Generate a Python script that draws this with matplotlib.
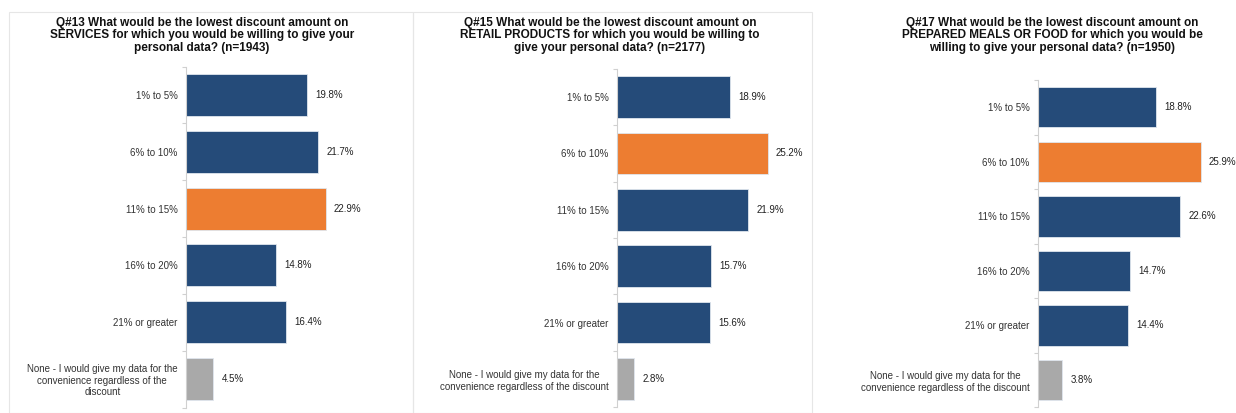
import numpy as np
import matplotlib.pyplot as plt
from matplotlib.patches import Rectangle

plt.rcParams['font.family'] = ['Liberation Sans', 'DejaVu Sans']

# Daten
kategorien = ["1% to 5%", "6% to 10%", "11% to 15%", "16% to 20%", "21% or greater", "None"]
none_label_1 = "None - I would give my data for the\nconvenience regardless of the\ndiscount"
none_label_2 = "None - I would give my data for the\nconvenience regardless of the discount"

titel = [
    "Q#13 What would be the lowest discount amount on\nSERVICES for which you would be willing to give your\npersonal data? (n=1943)",
    "Q#15 What would be the lowest discount amount on\nRETAIL PRODUCTS for which you would be willing to\ngive your personal data? (n=2177)",
    "Q#17 What would be the lowest discount amount on\nPREPARED MEALS OR FOOD for which you would be\nwilling to give your personal data? (n=1950)",
]
services = [19.8, 21.7, 22.9, 14.8, 16.4, 4.5]
retail = [18.9, 25.2, 21.9, 15.7, 15.6, 2.8]
food = [18.8, 25.9, 22.6, 14.7, 14.4, 3.8]
highlight = [2, 1, 1]   # Index des orangen Balkens

blau = "#254B79"
orange = "#ED7D31"
grau = "#A9A9A9"

W, H = 1236, 413
fig = plt.figure(figsize=(W/100, H/100), dpi=100)

# Panel-Layout in Pixeln: links, oben, unten, px pro %, Breite, Titelmitte
layout = [
    (186, 66.5, 407.5, 6.1, 215, 202),
    (617, 68.8, 407.2, 5.98, 190, 610),
    (1038, 80.0, 407.3, 6.28, 190, 1052),
]
werte = [services, retail, food]
none_labels = [none_label_1, none_label_2, none_label_2]

# dezente Rahmen um Panel 1 und 2
for x0, x1 in [(9, 413), (413, 812)]:
    fig.patches.append(Rectangle((x0/W, 0), (x1-x0)/W, (H-12)/H, transform=fig.transFigure,
                                 fill=False, edgecolor="#e6e6e6", linewidth=0.8))

for k in range(3):
    left, top, bottom, ppp, width, tx = layout[k]
    ax = fig.add_axes([left/W, (H-bottom)/H, width/W, (bottom-top)/H])
    vals = werte[k]
    farben = [grau if i == 5 else (orange if i == highlight[k] else blau) for i in range(6)]
    y = np.arange(6)
    ax.barh(y, vals, height=0.74, color=farben, edgecolor="#dfe6ee", linewidth=0.6)
    ax.set_ylim(5.5, -0.5)
    ax.set_xlim(0, width/ppp)
    for i, v in enumerate(vals):
        ax.annotate(f"{v:.1f}%", (v, i), xytext=(6, 0), textcoords="offset points",
                    va="center", ha="left", fontsize=7, color="#222222")
    labels = kategorien[:5] + [none_labels[k]]
    ax.set_yticks(y)
    ax.set_yticklabels(labels, fontsize=7, color="#333333")
    for lbl in ax.get_yticklabels():
        lbl.set_multialignment("center")
    ax.tick_params(axis="y", which="major", length=0, pad=6)
    ax.set_yticks(np.arange(-0.5, 6, 1), minor=True)
    ax.tick_params(axis="y", which="minor", length=3, color="#d0d0d0", width=0.8)
    ax.set_xticks([])
    for s in ["top", "right", "bottom"]:
        ax.spines[s].set_visible(False)
    ax.spines["left"].set_color("#d0d0d0")
    ax.spines["left"].set_linewidth(0.8)

    fig.text(tx/W, 1 - 17/H, titel[k], ha="center", va="top", fontsize=8.5,
             fontweight="bold", linespacing=1.05, color="#111111")

fig.savefig("out.png", dpi=100)
